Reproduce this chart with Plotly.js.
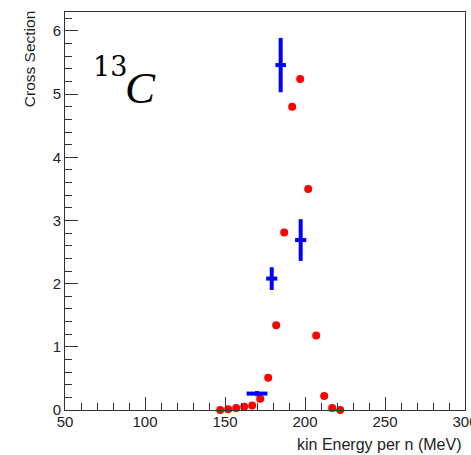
<!DOCTYPE html>
<html>
<head>
<meta charset="utf-8">
<script src="https://cdn.plot.ly/plotly-3.0.1.min.js"></script>
<style>html,body{margin:0;padding:0;background:#fff;}#chart{width:471px;height:455px;}</style>
</head>
<body>
<div id="chart"></div>
<script>
// Theory points (red)
const redX = [147, 152, 157, 162, 167, 172, 177, 182, 187, 192, 197, 202, 207, 212, 217, 222];
const redY = [0.00, 0.01, 0.03, 0.05, 0.07, 0.18, 0.51, 1.34, 2.81, 4.80, 5.24, 3.50, 1.18, 0.22, 0.03, 0.00];
// Measured points (blue) with errors
const blueX = [170, 179.2, 184.8, 197.3];
const blueY = [0.26, 2.08, 5.46, 2.69];
const blueErrY = [0.04, 0.18, 0.43, 0.33];
const blueErrX = [6.5, 3.5, 3.3, 3.5];
const xTitle = 'kin Energy per n (MeV)';
const yTitle = 'Cross Section';
const isoMass = '13';
const isoSym = 'C';

const traces = [
  {x: redX, y: redY, type: 'scatter', mode: 'markers',
   marker: {color: '#ff0000', size: 8, symbol: 'circle'}, cliponaxis: false, hoverinfo: 'x+y'},
  {x: blueX, y: blueY, type: 'scatter', mode: 'markers',
   marker: {color: '#0000ff', size: 1},
   error_y: {type: 'data', array: blueErrY, visible: true, color: '#0000ff', thickness: 4, width: 0},
   error_x: {type: 'data', array: blueErrX, visible: true, color: '#0000ff', thickness: 4, width: 0}}
];

const axFont = {family: 'Liberation Sans, Arial, sans-serif', size: 15, color: '#222'};
const layout = {
  width: 471, height: 455,
  margin: {l: 65, r: 6, t: 12, b: 45},
  paper_bgcolor: '#fff', plot_bgcolor: '#fff',
  showlegend: false,
  xaxis: {range: [50, 300], dtick: 50, tick0: 50, ticks: 'inside', ticklen: 13, tickwidth: 1, tickcolor: '#333',
          minor: {dtick: 10, ticks: 'inside', ticklen: 7, tickcolor: '#333', tickwidth: 1},
          showline: true, linecolor: '#333', linewidth: 1, mirror: true, showgrid: false, zeroline: false,
          tickfont: axFont, ticklabeloverflow: 'allow', ticklabelstandoff: -2, fixedrange: true},
  yaxis: {range: [0, 6.3], dtick: 1, tick0: 0, ticks: 'inside', ticklen: 13, tickwidth: 1, tickcolor: '#333',
          minor: {dtick: 0.2, ticks: 'inside', ticklen: 7, tickcolor: '#333', tickwidth: 1},
          showline: true, linecolor: '#333', linewidth: 1, mirror: true, showgrid: false, zeroline: false,
          tickfont: axFont, ticklabeloverflow: 'allow', fixedrange: true},
  annotations: [
    {text: yTitle, xref: 'paper', yref: 'paper', x: -0.09, y: 1.007, xanchor: 'center', yanchor: 'top',
     textangle: -90, showarrow: false, font: {family: 'Liberation Sans, Arial, sans-serif', size: 15.5, color: '#222'}},
    {text: xTitle, xref: 'paper', yref: 'paper', x: 0.9975, y: -0.087, xanchor: 'right', yanchor: 'middle',
     showarrow: false, font: {family: 'Liberation Sans, Arial, sans-serif', size: 16, color: '#222'}},
    {text: isoMass, xref: 'paper', yref: 'paper', x: 0.1125, y: 0.862, xanchor: 'center', yanchor: 'middle',
     showarrow: false, font: {family: 'DejaVu Serif, Liberation Serif, serif', size: 27, color: '#000'}},
    {text: '<i>' + isoSym + '</i>', xref: 'paper', yref: 'paper', x: 0.1875, y: 0.81, xanchor: 'center', yanchor: 'middle',
     showarrow: false, font: {family: 'Liberation Serif, DejaVu Serif, serif', size: 45, color: '#000'}}
  ]
};
Plotly.newPlot('chart', traces, layout, {displayModeBar: false, staticPlot: true});
</script>
</body>
</html>
